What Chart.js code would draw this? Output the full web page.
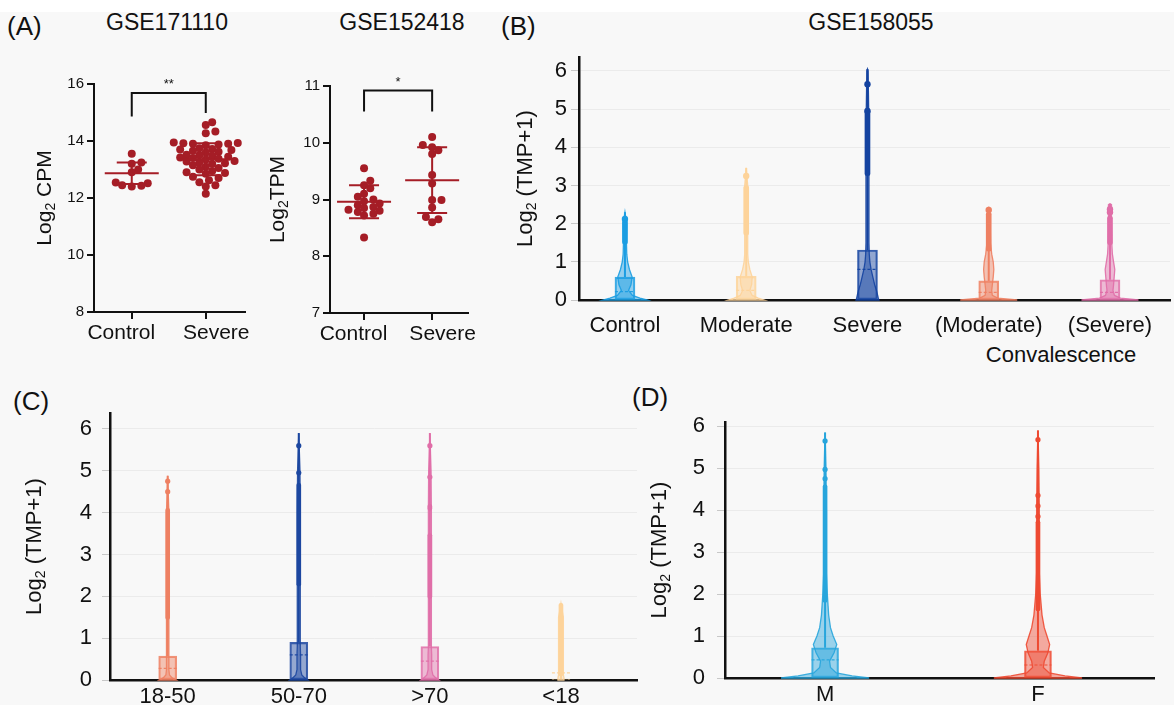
<!DOCTYPE html>
<html>
<head>
<meta charset="utf-8">
<script src="https://cdn.jsdelivr.net/npm/chart.js@4.4.0/dist/chart.umd.min.js"></script>
<style>
  body { margin: 0; background: #fff; }
  #fig { position: relative; width: 1174px; height: 705px; overflow: hidden; background: #fff; }
  #fundo { position: absolute; left: 0; top: 12px; width: 1174px; height: 693px; background: #f8f8f8; }
  canvas { position: absolute; }
  .txt { position: absolute; font-family: "Liberation Sans", Arial, sans-serif; color: #111; line-height: 1; white-space: nowrap; }
</style>
</head>
<body>
<div id="fig">
  <div id="fundo"></div>
  <div class="txt" style="left:7px;top:13px;font-size:26px">(A)</div>
  <div class="txt" style="left:167px;top:11px;font-size:23px;transform:translateX(-50%)">GSE171110</div>
  <div class="txt" style="left:402px;top:11px;font-size:23px;transform:translateX(-50%)">GSE152418</div>
  <div class="txt" style="left:501px;top:13px;font-size:26px">(B)</div>
  <div class="txt" style="left:871px;top:11px;font-size:23px;transform:translateX(-50%)">GSE158055</div>
  <div class="txt" style="left:1061px;top:344px;font-size:22px;transform:translateX(-50%)">Convalescence</div>
  <div class="txt" style="left:13px;top:388px;font-size:26px">(C)</div>
  <div class="txt" style="left:632px;top:384px;font-size:26px">(D)</div>

  <canvas id="a1" width="255" height="320" style="left:0;top:40px"></canvas>
  <canvas id="a2" width="225" height="320" style="left:255px;top:40px"></canvas>
  <canvas id="b" width="674" height="330" style="left:500px;top:40px"></canvas>
  <canvas id="c" width="640" height="335" style="left:0;top:370px"></canvas>
  <canvas id="d" width="544" height="335" style="left:630px;top:370px"></canvas>
</div>

<script>
// ---------- (A) dot plots ----------
const aGroups = ['Control', 'Severe'];

const a1Control = [13.55, 13.25, 13.2, 13.0, 12.9, 12.54, 12.52, 12.45, 12.43, 12.4];
const a1Severe = [14.66, 14.56, 14.33, 14.27,
  13.95, 13.93, 13.92, 13.9, 13.9, 13.88, 13.85,
  13.75, 13.72, 13.7, 13.68, 13.66, 13.62, 13.6,
  13.52, 13.5, 13.48, 13.45, 13.42, 13.4, 13.38, 13.35,
  13.3, 13.28, 13.25, 13.22, 13.2, 13.15,
  13.1, 13.05, 13.0, 12.95, 12.9, 12.88, 12.85,
  12.75, 12.7, 12.62, 12.55, 12.45, 12.4, 12.15];
const a1Mean = [12.87, 13.36];
const a1Sd = [0.38, 0.56];

const a2Control = [9.55, 9.33, 9.25, 9.2, 9.1, 9.05, 9.0, 8.97, 8.93, 8.9, 8.87, 8.85, 8.82, 8.8, 8.78, 8.75, 8.72, 8.33];
const a2Severe = [10.1, 9.96, 9.92, 9.87, 9.8, 9.43, 9.28, 8.99, 8.99, 8.86, 8.69, 8.6, 8.65];
const a2Mean = [8.96, 9.34];
const a2Sd = [0.29, 0.58];

// ---------- (B) GSE158055 by severity ----------
const bGroups = ['Control', 'Moderate', 'Severe', '(Moderate)', '(Severe)'];
const bBoxTop = [0.6, 0.62, 1.31, 0.5, 0.53];
const bMedian = [0.22, 0.25, 0.8, 0.2, 0.2];
const bMax = [2.3, 3.46, 6.05, 2.44, 2.52];
const bBands = [[[1.46, 2.1]], [[1.7, 3.0]], [[3.26, 5.0]], [[1.28, 2.3]], [[1.45, 2.2]]];
const bDots = [[2.12], [3.25], [5.65, 4.95], [2.36], [2.3, 2.38]];
const bColors = ['#1b9de2', '#fdd39a', '#1443a0', '#ee8062', '#e06ea8'];

// ---------- (C) by age ----------
const cGroups = ['18-50', '50-70', '>70', '<18'];
const cBoxTop = [0.57, 0.9, 0.8, 0.02];
const cMedian = [0.28, 0.6, 0.45, 0.17];
const cMax = [4.88, 5.9, 5.9, 1.83];
const cBands = [[[1.45, 4.1]], [[2.25, 4.7]], [[1.95, 3.5], [4.05, 4.2]], [[0.1, 1.83]]];
const cDots = [[4.5, 4.75], [5.6, 4.95], [5.6, 4.85], []];
const cColors = ['#ee8062', '#1c47a0', '#e06ea8', '#fdd39a'];

// ---------- (D) by sex ----------
const dGroups = ['M', 'F'];
const dBoxTop = [0.72, 0.65];
const dMedian = [0.43, 0.31];
const dMax = [5.85, 5.9];
const dBands = [[[1.8, 4.6]], [[1.6, 3.75]]];
const dDots = [[5.65, 4.97, 4.75], [5.68, 4.35, 4.1, 3.85]];
const dColors = ['#27a5dc', '#ee4a32'];

const violinTicks = [0, 1, 2, 3, 4, 5, 6];

// relative violin widths at each level
const vLevels = [0, 0.05, 0.12, 0.25, 0.4, 0.6, 0.8, 1.0, 1.2, 1.5, 2.0, 2.5, 3.0, 3.5, 4.0, 5.0, 6.0];
const bDensity = [
  [0.73, 0.5, 0.25, 0.12, 0.2, 0.24, 0.15, 0.09, 0.06, 0.05, 0.06, 0.05, 0, 0, 0, 0, 0],
  [0.6, 0.4, 0.2, 0.12, 0.18, 0.2, 0.12, 0.07, 0.05, 0.05, 0.05, 0.05, 0.05, 0.04, 0, 0, 0],
  [0.38, 0.36, 0.34, 0.3, 0.24, 0.18, 0.12, 0.08, 0.06, 0.05, 0.05, 0.05, 0.05, 0.05, 0.05, 0.04, 0.02],
  [0.95, 0.3, 0.12, 0.1, 0.12, 0.15, 0.17, 0.15, 0.1, 0.06, 0.05, 0.05, 0, 0, 0, 0, 0],
  [0.95, 0.35, 0.15, 0.1, 0.12, 0.14, 0.16, 0.12, 0.08, 0.06, 0.05, 0.05, 0, 0, 0, 0, 0]
];
const cDensity = [
  [0.28, 0.15, 0.06, 0.04, 0.04, 0.04, 0.04, 0.04, 0.04, 0.04, 0.04, 0.04, 0.04, 0.04, 0.04, 0.03, 0],
  [0.3, 0.2, 0.1, 0.06, 0.06, 0.06, 0.05, 0.05, 0.05, 0.05, 0.05, 0.05, 0.05, 0.05, 0.05, 0.04, 0.03],
  [0.3, 0.2, 0.1, 0.06, 0.06, 0.06, 0.05, 0.05, 0.05, 0.05, 0.05, 0.05, 0.05, 0.05, 0.05, 0.04, 0.03],
  [0.1, 0.1, 0.08, 0.08, 0.08, 0.08, 0.08, 0.08, 0.08, 0.08, 0, 0, 0, 0, 0, 0, 0]
];
const dDensity = [
  [0.98, 0.6, 0.25, 0.12, 0.1, 0.2, 0.26, 0.18, 0.12, 0.08, 0.05, 0.03, 0.03, 0.03, 0.03, 0.02, 0],
  [0.98, 0.6, 0.25, 0.12, 0.14, 0.22, 0.26, 0.2, 0.14, 0.09, 0.05, 0.03, 0.03, 0.03, 0.03, 0.02, 0]
];

const RED = '#a51d26';
const FONTE = '"Liberation Sans", Arial, sans-serif';
Chart.defaults.font.family = FONTE;
Chart.defaults.color = '#111';

function rgba(hex, a) {
  const n = parseInt(hex.slice(1), 16);
  return 'rgba(' + (n >> 16) + ',' + ((n >> 8) & 255) + ',' + (n & 255) + ',' + a + ')';
}

// simple beeswarm: push each dot sideways until it no longer overlaps
function swarm(vals, pxY, pxX, r) {
  const ordem = vals.map((v, i) => i).sort((a, b) => vals[a] - vals[b]);
  const placed = [];
  const off = new Array(vals.length).fill(0);
  ordem.forEach(i => {
    const y = vals[i] * pxY;
    for (let k = 0; k < 80; k++) {
      const dx = (k % 2 ? 1 : -1) * Math.ceil(k / 2) * r * 0.8;
      const ok = placed.every(p => (p.x - dx) ** 2 + (p.y - y) ** 2 >= (1.7 * r) ** 2);
      if (ok) { placed.push({ x: dx, y: y }); off[i] = dx / pxX; break; }
    }
  });
  return off;
}

function yTitlePlugin(x, sub, rest, size) {
  return {
    id: 'yTitle',
    afterDraw(chart) {
      const ctx = chart.ctx;
      const yc = (chart.chartArea.top + chart.chartArea.bottom) / 2;
      ctx.save();
      ctx.translate(x, yc);
      ctx.rotate(-Math.PI / 2);
      ctx.fillStyle = '#111';
      ctx.textBaseline = 'middle';
      ctx.font = size + 'px ' + FONTE;
      const w1 = ctx.measureText('Log').width;
      const w3 = ctx.measureText(rest).width;
      ctx.font = Math.round(size * 0.65) + 'px ' + FONTE;
      const w2 = ctx.measureText(sub).width;
      let sx = -(w1 + w2 + w3) / 2;
      ctx.font = size + 'px ' + FONTE;
      ctx.fillText('Log', sx, 0);
      ctx.font = Math.round(size * 0.65) + 'px ' + FONTE;
      ctx.fillText(sub, sx + w1, size * 0.3);
      ctx.font = size + 'px ' + FONTE;
      ctx.fillText(rest, sx + w1 + w2, 0);
      ctx.restore();
    }
  };
}

// mean line with +/- SD whiskers and the significance bracket
function meanSdPlugin(mean, sd, bracket) {
  return {
    id: 'meanSd',
    afterDatasetsDraw(chart) {
      const { ctx, scales: { x, y } } = chart;
      ctx.save();
      ctx.strokeStyle = RED;
      ctx.lineWidth = 2;
      mean.forEach((m, i) => {
        const xc = x.getPixelForValue(i);
        const ym = y.getPixelForValue(m);
        const yt = y.getPixelForValue(m + sd[i]);
        const yb = y.getPixelForValue(m - sd[i]);
        ctx.beginPath();
        ctx.moveTo(xc - 27, ym); ctx.lineTo(xc + 27, ym);
        ctx.moveTo(xc, yt); ctx.lineTo(xc, yb);
        ctx.moveTo(xc - 15, yt); ctx.lineTo(xc + 15, yt);
        ctx.moveTo(xc - 15, yb); ctx.lineTo(xc + 15, yb);
        ctx.stroke();
      });
      const x0 = x.getPixelForValue(0), x1 = x.getPixelForValue(1);
      const yTop = y.getPixelForValue(bracket.top);
      ctx.strokeStyle = '#111';
      ctx.beginPath();
      ctx.moveTo(x0, y.getPixelForValue(bracket.legs[0]));
      ctx.lineTo(x0, yTop); ctx.lineTo(x1, yTop);
      ctx.lineTo(x1, y.getPixelForValue(bracket.legs[1]));
      ctx.stroke();
      ctx.fillStyle = '#111';
      ctx.font = '13px ' + FONTE;
      ctx.textAlign = 'center';
      ctx.textBaseline = 'bottom';
      ctx.fillText(bracket.label, (x0 + x1) / 2, yTop - 2);
      ctx.restore();
    }
  };
}

// labels sit a little outside their ticks, so nudge them apart with a space
function aLabel(v) {
  return v === 0 ? aGroups[0] + '\u2003' : '\u2003' + aGroups[1];
}

function dotChart(id, ctrl, sev, mean, sd, lay) {
  const offC = swarm(ctrl, lay.pxY, lay.pxX, 4);
  const offS = swarm(sev, lay.pxY, lay.pxX, 4);
  const pts = ctrl.map((v, i) => ({ x: 0 + offC[i], y: v }))
    .concat(sev.map((v, i) => ({ x: 1 + offS[i], y: v })));
  const eixo = { display: true, drawOnChartArea: false, drawTicks: true, tickLength: 7, color: '#111', lineWidth: 2 };
  new Chart(document.getElementById(id), {
    type: 'scatter',
    data: { datasets: [{ data: pts, pointRadius: 4, pointHoverRadius: 4, backgroundColor: RED, borderWidth: 0 }] },
    options: {
      responsive: false, animation: false, devicePixelRatio: 1,
      layout: { padding: { left: 0, right: lay.right, top: lay.top, bottom: 0 } },
      plugins: { legend: { display: false }, tooltip: { enabled: false } },
      scales: {
        x: {
          type: 'linear', min: lay.xmin, max: lay.xmax,
          grid: eixo, border: { color: '#111', width: 2 },
          afterBuildTicks: ax => { ax.ticks = [{ value: 0 }, { value: 1 }]; },
          afterFit: ax => { ax.height = lay.xh; },
          ticks: { autoSkip: false, maxRotation: 0, padding: 2, font: { size: 21 }, callback: aLabel }
        },
        y: {
          min: lay.ymin, max: lay.ymax,
          grid: eixo, border: { color: '#111', width: 2 },
          afterFit: ax => { ax.width = lay.yw; },
          ticks: { stepSize: lay.step, padding: 3, font: { size: 15 } }
        }
      }
    },
    plugins: [meanSdPlugin(mean, sd, lay.bracket), yTitlePlugin(lay.titleX, '2', lay.titleRest, 21)]
  });
}

dotChart('a1', a1Control, a1Severe, a1Mean, a1Sd, {
  xmin: -0.51, xmax: 1.53, ymin: 8, ymax: 16, step: 2, yw: 94, xh: 48, top: 44, right: 10,
  pxX: 74, pxY: 28.5, titleX: 45, titleRest: ' CPM',
  bracket: { top: 15.68, legs: [14.86, 14.98], label: '**' }
});
dotChart('a2', a2Control, a2Severe, a2Mean, a2Sd, {
  xmin: -0.5, xmax: 1.53, ymin: 7, ymax: 11, step: 1, yw: 75, xh: 47, top: 46, right: 8,
  pxX: 70, pxY: 57, titleX: 23, titleRest: 'TPM',
  bracket: { top: 10.92, legs: [10.55, 10.55], label: '*' }
});

// ---------- violin panels ----------
function violinPlugin(v) {
  return {
    id: 'violins',
    beforeDatasetsDraw(chart) {
      const { ctx, scales: { x, y } } = chart;
      v.groups.forEach((g, i) => {
        const xc = x.getPixelForValue(i);
        const pts = [];
        vLevels.forEach((lv, k) => { if (lv < v.max[i]) pts.push([lv, v.dens[i][k]]); });
        pts.push([v.max[i], 0]);
        ctx.save();
        ctx.beginPath();
        pts.forEach((p, k) => {
          const px = xc + p[1] * v.halfW, py = y.getPixelForValue(p[0]);
          if (k) ctx.lineTo(px, py); else ctx.moveTo(px, py);
        });
        for (let k = pts.length - 1; k >= 0; k--) {
          ctx.lineTo(xc - pts[k][1] * v.halfW, y.getPixelForValue(pts[k][0]));
        }
        ctx.closePath();
        ctx.fillStyle = rgba(v.colors[i], 0.45);
        ctx.fill();
        ctx.strokeStyle = rgba(v.colors[i], 0.9);
        ctx.lineWidth = 1.3;
        ctx.stroke();
        // whisker up to the maximum
        ctx.beginPath();
        ctx.moveTo(xc, y.getPixelForValue(v.boxTop[i]));
        ctx.lineTo(xc, y.getPixelForValue(v.max[i]));
        ctx.lineWidth = 2;
        ctx.strokeStyle = v.colors[i];
        ctx.stroke();
        ctx.restore();
      });
    },
    afterDatasetsDraw(chart) {
      const { ctx, scales: { x, y } } = chart;
      ctx.save();
      ctx.setLineDash([3, 2]);
      ctx.lineWidth = 1.2;
      v.groups.forEach((g, i) => {
        const xc = x.getPixelForValue(i);
        const ym = y.getPixelForValue(v.median[i]);
        ctx.strokeStyle = rgba(v.colors[i], 0.95);
        ctx.beginPath();
        ctx.moveTo(xc - v.boxW / 2, ym);
        ctx.lineTo(xc + v.boxW / 2, ym);
        ctx.stroke();
      });
      ctx.restore();
    }
  };
}

function violinChart(id, groups, boxTop, median, vmax, bands, dots, dens, colors, lay) {
  const cor = c => colors[c.raw.x];
  const boxes = groups.map((g, i) => ({ x: i, y: [0, boxTop[i]] }));
  const faixas = [];
  bands.forEach((lista, i) => lista.forEach(b => faixas.push({ x: i, y: b })));
  const pontos = [];
  dots.forEach((lista, i) => lista.forEach(v => pontos.push({ x: i, y: v })));

  new Chart(document.getElementById(id), {
    type: 'bar',
    data: {
      datasets: [
        {
          data: boxes, grouped: false, barThickness: lay.boxW, borderSkipped: false, borderWidth: 1.5,
          backgroundColor: c => rgba(colors[c.raw.x], 0.45), borderColor: c => rgba(colors[c.raw.x], 0.85)
        },
        {
          data: faixas, grouped: false, barThickness: lay.bandW, borderSkipped: false, borderWidth: 0,
          borderRadius: lay.bandW / 2, backgroundColor: cor
        },
        {
          type: 'scatter', data: pontos, pointRadius: lay.dotR, pointHoverRadius: lay.dotR,
          borderWidth: 0, backgroundColor: cor
        }
      ]
    },
    options: {
      responsive: false, animation: false, devicePixelRatio: 1,
      layout: { padding: { left: 0, right: lay.right, top: lay.top, bottom: 0 } },
      plugins: { legend: { display: false }, tooltip: { enabled: false } },
      scales: {
        x: {
          type: 'linear', min: lay.xmin, max: lay.xmax, offset: false,
          grid: { display: false, drawTicks: false }, border: { color: '#111', width: 2.5 },
          afterBuildTicks: ax => { ax.ticks = groups.map((g, i) => ({ value: i })); },
          afterFit: ax => { ax.height = lay.xh; },
          ticks: { autoSkip: false, maxRotation: 0, padding: lay.xpad, font: { size: 22 }, callback: v => groups[v] }
        },
        y: {
          min: 0, max: lay.ymax,
          grid: { color: '#ebebeb', lineWidth: 1, tickLength: 8, tickColor: '#c8c8c8' },
          border: { color: '#111', width: 2.5 },
          afterBuildTicks: ax => { ax.ticks = violinTicks.map(t => ({ value: t })); },
          afterFit: ax => { ax.width = lay.yw; },
          ticks: { autoSkip: false, padding: lay.ypad, font: { size: 22 } }
        }
      }
    },
    plugins: [
      violinPlugin({ groups, boxTop, median, max: vmax, dens, colors, halfW: lay.halfW, boxW: lay.boxW }),
      yTitlePlugin(lay.titleX, '2', ' (TMP+1)', 22)
    ]
  });
}

violinChart('b', bGroups, bBoxTop, bMedian, bMax, bBands, bDots, bDensity, bColors, {
  xmin: -0.379, xmax: 4.495, ymax: 6.36, yw: 79, xh: 70, top: 12, right: 4,
  xpad: 13, ypad: 4, halfW: 30, boxW: 20, bandW: 5, dotR: 3.2, titleX: 26
});
violinChart('c', cGroups, cBoxTop, cMedian, cMax, cBands, cDots, cDensity, cColors, {
  xmin: -0.44, xmax: 3.58, ymax: 6.38, yw: 110, xh: 25, top: 43, right: 3,
  xpad: 4, ypad: 10, halfW: 30, boxW: 18, bandW: 4, dotR: 2.6, titleX: 35
});
violinChart('d', dGroups, dBoxTop, dMedian, dMax, dBands, dDots, dDensity, dColors, {
  xmin: -0.47, xmax: 1.545, ymax: 6.1, yw: 95, xh: 27, top: 52, right: 20,
  xpad: 4, ypad: 12, halfW: 45, boxW: 27, bandW: 4, dotR: 2.6, titleX: 30
});
</script>
</body>
</html>
